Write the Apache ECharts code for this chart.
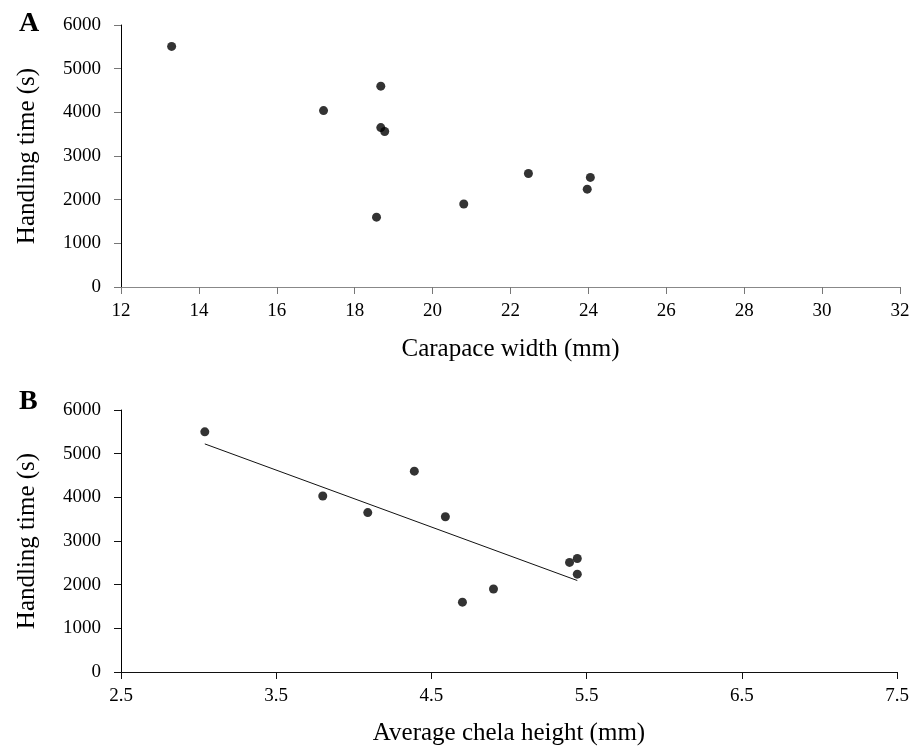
<!DOCTYPE html>
<html>
<head>
<meta charset="utf-8">
<script src="https://cdn.jsdelivr.net/npm/echarts@6/dist/echarts.min.js"></script>
<style>
html,body{margin:0;padding:0;background:#fff;}
#chart{width:919px;height:748px;}
</style>
</head>
<body>
<div id="chart"></div>
<script>
// Data
var carapaceWidth = [13.3, 17.2, 18.67, 18.67, 18.77, 18.56, 20.8, 22.46, 24.05, 23.97];
var handlingTimeA = [5510, 4040, 4600, 3650, 3560, 1600, 1900, 2600, 2510, 2240];
var chelaHeight   = [3.04, 3.80, 4.09, 4.39, 4.59, 4.70, 4.90, 5.39, 5.44, 5.44];
var handlingTimeB = [5500, 4030, 3650, 4600, 3555, 1600, 1900, 2510, 2600, 2240];
var xTicksA = [12, 14, 16, 18, 20, 22, 24, 26, 28, 30, 32];
var xTicksB = [2.5, 3.5, 4.5, 5.5, 6.5, 7.5];
var yTicks = [0, 1000, 2000, 3000, 4000, 5000, 6000];

function pairs(xs, ys){ return xs.map(function(x,i){ return [x, ys[i]]; }); }

// least squares trend line for panel B
function trend(xs, ys){
  var n = xs.length, mx = 0, my = 0;
  for (var i=0;i<n;i++){ mx += xs[i]; my += ys[i]; }
  mx /= n; my /= n;
  var sxy = 0, sxx = 0;
  for (var j=0;j<n;j++){ sxy += (xs[j]-mx)*(ys[j]-my); sxx += (xs[j]-mx)*(xs[j]-mx); }
  var b = sxy/sxx, a = my - b*mx;
  var x0 = Math.min.apply(null, xs), x1 = Math.max.apply(null, xs);
  return [[x0, a + b*x0], [x1, a + b*x1]];
}

var FONT = '"Liberation Serif", "Times New Roman", serif';
var chart = echarts.init(document.getElementById('chart'), null, {renderer:'canvas'});

function yAxis(gridIndex, lineColor, tickColor){
  return {
    type:'value', gridIndex:gridIndex, min:yTicks[0], max:yTicks[yTicks.length-1], interval:1000,
    name:'Handling time (s)', nameLocation:'middle', nameGap:81,
    nameTextStyle:{fontFamily:FONT, fontSize:25, color:'#000'},
    axisLine:{show:true, lineStyle:{color:lineColor, width:1}},
    axisTick:{show:true, length:7, lineStyle:{color:tickColor}},
    axisLabel:{fontFamily:FONT, fontSize:19, color:'#000', margin:20,
      formatter:function(v){ return String(v); }},
    splitLine:{show:false}
  };
}

var option = {
  backgroundColor:'#fff',
  animation:false,
  title:[
    {text:'A', left:14, top:5, textStyle:{fontFamily:FONT, fontSize:28, fontWeight:'bold', color:'#000'}},
    {text:'B', left:14, top:383, textStyle:{fontFamily:FONT, fontSize:28, fontWeight:'bold', color:'#000'}}
  ],
  grid:[
    {left:121, top:25, width:779, height:262},
    {left:121, top:410, width:776, height:262}
  ],
  xAxis:[
    {type:'value', gridIndex:0, min:xTicksA[0], max:xTicksA[xTicksA.length-1], interval:2,
     name:'Carapace width (mm)', nameLocation:'middle', nameGap:50,
     nameTextStyle:{fontFamily:FONT, fontSize:25, color:'#000'},
     axisLine:{show:true, onZero:false, lineStyle:{color:'#888', width:1}},
     axisTick:{show:true, length:7, lineStyle:{color:'#777'}},
     axisLabel:{fontFamily:FONT, fontSize:19, color:'#000', margin:15},
     splitLine:{show:false}},
    {type:'value', gridIndex:1, min:xTicksB[0], max:xTicksB[xTicksB.length-1], interval:1,
     name:'Average chela height (mm)', nameLocation:'middle', nameGap:49,
     nameTextStyle:{fontFamily:FONT, fontSize:25, color:'#000'},
     axisLine:{show:true, onZero:false, lineStyle:{color:'#111', width:1}},
     axisTick:{show:true, length:7, lineStyle:{color:'#111'}},
     axisLabel:{fontFamily:FONT, fontSize:19, color:'#000', margin:15,
       formatter:function(v){ return v.toFixed(1); }},
     splitLine:{show:false}}
  ],
  yAxis:[ yAxis(0, '#000', '#777'), yAxis(1, '#000', '#111') ],
  series:[
    {type:'scatter', xAxisIndex:0, yAxisIndex:0, data:pairs(carapaceWidth, handlingTimeA),
     symbol:'circle', symbolSize:9, itemStyle:{color:'#000'}},
    {type:'line', xAxisIndex:1, yAxisIndex:1, data:trend(chelaHeight, handlingTimeB),
     showSymbol:false, symbol:'none', lineStyle:{color:'#111', width:1}, z:1},
    {type:'scatter', xAxisIndex:1, yAxisIndex:1, data:pairs(chelaHeight, handlingTimeB),
     symbol:'circle', symbolSize:9, itemStyle:{color:'#000'}, z:3}
  ]
};
chart.setOption(option);
</script>
</body>
</html>
